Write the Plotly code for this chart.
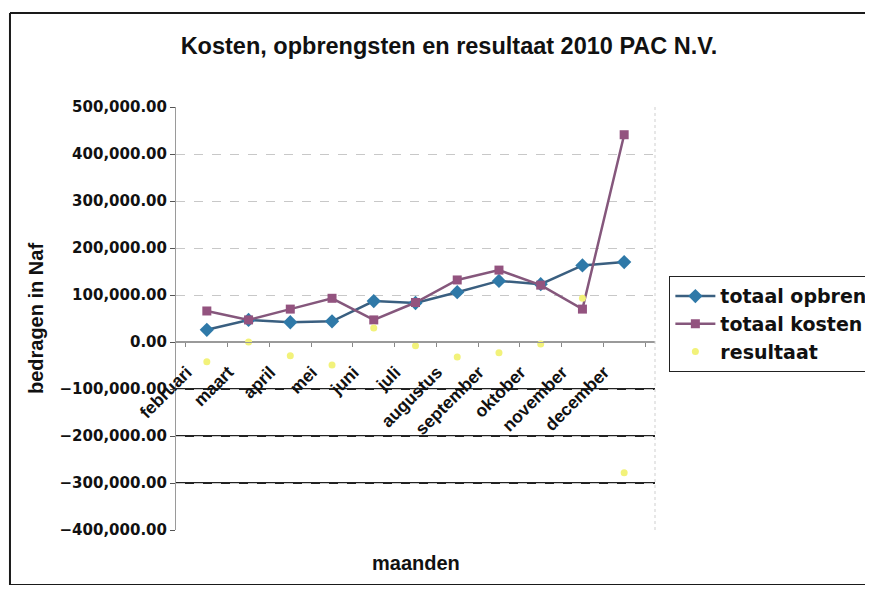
import plotly.graph_objects as go

months = ["februari", "maart", "april", "mei", "juni", "juli", "augustus",
          "september", "oktober", "november", "december"]
opbrengsten = [26000, 47000, 42000, 44000, 87000, 83000, 106000, 130000, 123000, 163000, 170000]
kosten = [66000, 47000, 70000, 93000, 47000, 84000, 132000, 153000, 121000, 70000, 441000]
resultaat = [-42000, 0, -29000, -49000, 30000, -8000, -32000, -23000, -4000, 93000, -278000]

y_ticks = [500000, 400000, 300000, 200000, 100000, 0, -100000, -200000, -300000, -400000]
dark_lines = [-100000, -200000, -300000]

FONT = "Liberation Sans"
WIDE = "DejaVu Sans"

# page body has ~8px default margin; the figure is sized to fit inside the
# window without scrolling, and the plot area lands at x 176..655, y 107..530
W, H = 865, 577
L, R, T, B = 168, 218, 99, 55

fig = go.Figure()
fig.add_trace(go.Scatter(
    x=months, y=opbrengsten, name="totaal opbrengsten", mode="lines+markers",
    line=dict(color="#3a5f80", width=2.5),
    marker=dict(symbol="diamond", size=11, color="#2f79a8"),
))
fig.add_trace(go.Scatter(
    x=months, y=kosten, name="totaal kosten", mode="lines+markers",
    line=dict(color="#85577c", width=2.5),
    marker=dict(symbol="square", size=9, color="#93537f"),
))
fig.add_trace(go.Scatter(
    x=months, y=resultaat, name="resultaat", mode="markers",
    marker=dict(symbol="circle", size=7, color="#f2f27a"),
))

shapes = []
for v in dark_lines:
    shapes.append(dict(type="line", xref="paper", yref="y", x0=0, x1=1.0, y0=v, y1=v,
                       line=dict(color="#222222", width=2.2), layer="below"))
# outer chart frame (left, top, bottom edges; right edge is outside the picture)
FX0, FY0, FY1, FX1 = -0.3466, -0.1300, 1.2222, 1.45
for x0, y0, x1, y1 in [(FX0, FY0, FX0, FY1), (FX0, FY1, FX1, FY1), (FX0, FY0, FX1, FY0)]:
    shapes.append(dict(type="line", xref="paper", yref="paper", x0=x0, y0=y0, x1=x1, y1=y1,
                       line=dict(color="#1a1a1a", width=2), layer="below"))
# right border of plot area
shapes.append(dict(type="line", xref="paper", yref="paper", x0=1, x1=1, y0=0, y1=1,
                   line=dict(color="#cfcfcf", width=1, dash="dot")))

fig.update_layout(
    width=W, height=H,
    margin=dict(l=L, r=R, t=T, b=B, autoexpand=False),
    paper_bgcolor="white", plot_bgcolor="white",
    font=dict(family=FONT, color="#111111", size=18),
    title=dict(text="<b>Kosten, opbrengsten en resultaat 2010 PAC N.V.</b>",
               x=0.57, xanchor="center", xref="paper", y=0.935, yanchor="middle",
               font=dict(size=23.5, family=FONT, color="#111111")),
    showlegend=True,
    legend=dict(x=1.03, xanchor="left", y=0.60, yanchor="top",
                font=dict(size=19, family=WIDE, color="#111111", weight="bold"),
                bordercolor="#222222", borderwidth=1, bgcolor="white",
                itemwidth=40, tracegroupgap=0),
    shapes=shapes,
)

fig.update_yaxes(
    range=[-400000, 500000], tickvals=y_ticks, tickformat=",.2f",
    tickfont=dict(size=15, family=WIDE, weight="bold"),
    showgrid=True, gridcolor="#c8c8c8", griddash="dash", gridwidth=1,
    zeroline=True, zerolinecolor="#9a9a9a", zerolinewidth=1.5,
    showline=True, linecolor="#9a9a9a", linewidth=1, mirror=False,
    ticks="outside", ticklen=5, tickcolor="#555555",
    title=dict(text="<b>bedragen in Naf</b>", font=dict(size=20, family=FONT), standoff=10),
)
fig.update_xaxes(
    type="category", anchor="free", position=4/9,
    tickangle=-45, tickfont=dict(size=17.5, family=FONT, weight="bold"),
    ticklabelstandoff=12, ticklabelshift=-20,
    showgrid=False, showline=True, linecolor="#9a9a9a", linewidth=1,
    ticks="outside", ticklen=4, tickcolor="#888888", tickson="boundaries",
    automargin=False,
)
fig.add_annotation(text="<b>maanden</b>", xref="paper", yref="paper",
                   x=0.5, y=-0.078, showarrow=False, xanchor="center", yanchor="middle",
                   font=dict(size=20, family=FONT, color="#111111"))

fig.write_html("out.html")
